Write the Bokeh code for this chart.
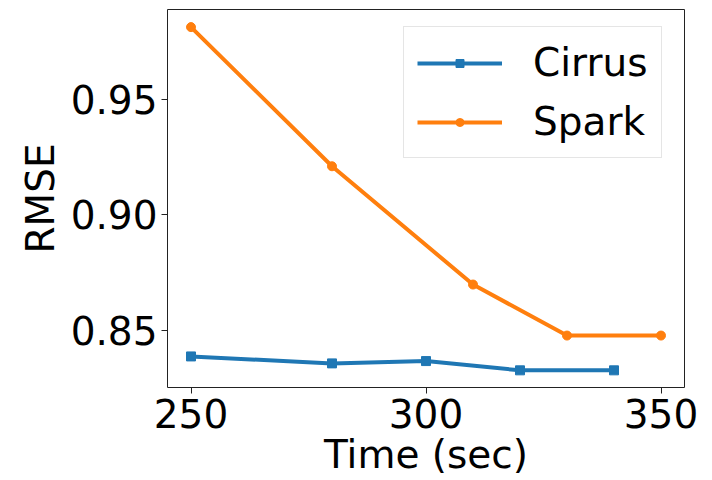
from bokeh.plotting import figure
from bokeh.models import Range1d, Legend, LegendItem
from bokeh.embed import file_html
from bokeh.resources import INLINE

cirrus_time = [250, 280, 300, 320, 340]
cirrus_rmse = [0.839, 0.836, 0.837, 0.833, 0.833]
spark_time = [250, 280, 310, 330, 350]
spark_rmse = [0.981, 0.921, 0.870, 0.848, 0.848]
x_ticks = [250, 300, 350]
y_ticks = [0.85, 0.90, 0.95]

BLUE = "#1f77b4"
ORANGE = "#ff7f0e"
FONT = "DejaVu Sans"
FS = "39px"

p = figure(width=712, height=480, output_backend="svg", toolbar_location=None,
           x_range=Range1d(245, 355), y_range=Range1d(0.8256, 0.9886),
           min_border_left=167, min_border_right=28, min_border_top=9, min_border_bottom=93)
p.xgrid.visible = False
p.ygrid.visible = False
p.outline_line_color = "#222222"
p.outline_line_width = 1
p.outline_line_alpha = 1

l1 = p.line(cirrus_time, cirrus_rmse, line_color=BLUE, line_width=4)
s1 = p.scatter(cirrus_time, cirrus_rmse, marker="square", size=9, fill_color=BLUE, line_color=BLUE)
l2 = p.line(spark_time, spark_rmse, line_color=ORANGE, line_width=4)
s2 = p.scatter(spark_time, spark_rmse, marker="circle", size=9, fill_color=ORANGE, line_color=ORANGE)

for ax in (p.xaxis[0], p.yaxis[0]):
    ax.major_label_text_font = FONT
    ax.major_label_text_font_size = FS
    ax.major_label_text_color = "black"
    ax.axis_label_text_font = FONT
    ax.axis_label_text_font_size = FS
    ax.axis_label_text_font_style = "normal"
    ax.axis_label_text_color = "black"
    ax.major_tick_out = 6
    ax.major_tick_in = 0
    ax.minor_tick_out = 0
    ax.minor_tick_in = 0
    ax.axis_line_color = None
    ax.major_tick_line_color = "#222222"
    ax.major_label_standoff = 4

p.xaxis.ticker = x_ticks
p.yaxis.ticker = y_ticks
p.yaxis.major_label_overrides = {v: f"{v:.2f}" for v in y_ticks}
p.xaxis.axis_label = "Time (sec)"
p.yaxis.axis_label = "RMSE"
p.xaxis.major_label_standoff = 5
p.xaxis.axis_label_standoff = 1
p.yaxis.axis_label_standoff = 5

legend = Legend(items=[LegendItem(label="Cirrus", renderers=[l1, s1]),
                       LegendItem(label="Spark", renderers=[l2, s2])],
                location=(236, 229))
legend.label_text_font = FONT
legend.label_text_font_size = FS
legend.label_text_color = "black"
legend.label_height = 43
legend.glyph_width = 85
legend.glyph_height = 20
legend.label_standoff = 31
legend.padding = 13
legend.spacing = 14
legend.border_line_color = "#cccccc"
legend.border_line_width = 1
legend.background_fill_color = "white"
legend.background_fill_alpha = 1
p.add_layout(legend)

open("out.html", "w").write(file_html(p, INLINE))
